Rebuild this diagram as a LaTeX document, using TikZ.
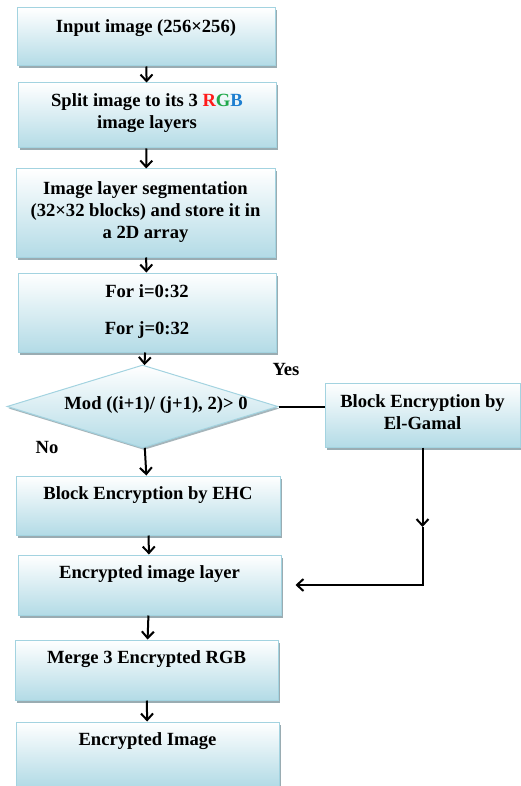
\documentclass[tikz,border=0pt]{standalone}
\usepackage{fontspec}
\setmainfont{Liberation Serif}
\usetikzlibrary{shapes.geometric,arrows.meta,shadows}
\definecolor{boxblue}{HTML}{B3DBE6}
\definecolor{boxedge}{HTML}{A3D3E0}
\definecolor{shadowgray}{HTML}{8FA3AA}
\definecolor{rgbR}{HTML}{FF1A1A}
\definecolor{rgbG}{HTML}{1FA84A}
\definecolor{rgbB}{HTML}{1E7FD0}
\tikzset{
  stepbox/.style={rectangle, draw=boxedge, line width=1pt, top color=white,
    bottom color=boxblue, inner sep=0pt,
    drop shadow={shadow xshift=2pt, shadow yshift=-2.5pt, fill=shadowgray, opacity=0.9}},
  decision/.style={diamond, draw=boxedge, line width=1pt, top color=white,
    bottom color=boxblue, inner sep=0pt, aspect=3.2,
    drop shadow={shadow xshift=1.5pt, shadow yshift=-2pt, fill=shadowgray, opacity=0.8}},
  lbl/.style={font=\fontsize{18.6}{22}\selectfont\bfseries, align=center, inner sep=0pt},
  arr/.style={draw=black, line width=2pt, -{Straight Barb[length=6.5pt,width=12pt,line width=2pt]}},
  plain/.style={draw=black, line width=2pt}
}
\begin{document}
\begin{tikzpicture}[x=1pt,y=-1pt]
\useasboundingbox (0,0) rectangle (521,786);

% process boxes
\node[stepbox, minimum width=258pt, minimum height=58pt] (b1) at (146,37) {};
\node[stepbox, minimum width=258pt, minimum height=65pt] (b2) at (147,115.5) {};
\node[stepbox, minimum width=259pt, minimum height=88pt] (b3) at (145.5,213) {};
\node[stepbox, minimum width=258pt, minimum height=79pt] (b4) at (147,312.5) {};
\node[decision, minimum width=271pt, minimum height=83pt] (d) at (142.5,406.5) {};
\node[stepbox, minimum width=195pt, minimum height=64pt] (g) at (422.5,415) {};
\node[stepbox, minimum width=264pt, minimum height=59pt] (e) at (148,505.5) {};
\node[stepbox, minimum width=263pt, minimum height=60pt] (L) at (149.5,585) {};
\node[stepbox, minimum width=263pt, minimum height=60pt] (m) at (146.5,670) {};
\node[stepbox, minimum width=263pt, minimum height=64pt] (f) at (147.5,754) {};

% box texts
\node[lbl] (t1) at (146,28) {Input image (256×256)};
\node[lbl] (t2) at (147,113.5) {Split image to its 3 \textcolor{rgbR}{R}\textcolor{rgbG}{G}\textcolor{rgbB}{B}\\image layers};
\node[lbl] (t3) at (145.5,212) {Image layer segmentation\\(32×32 blocks) and store it in\\a 2D array};
\node[lbl] (t4) at (147,311.5) {For i=0:32\\[15pt]For j=0:32};
\node[lbl] (td) at (156,405) {Mod ((i+1)/ (j+1), 2)> 0};
\node[lbl] (tg) at (422.5,412.5) {Block Encryption by\\El-Gamal};
\node[lbl] (te) at (148,495) {Block Encryption by EHC};
\node[lbl] (tL) at (149.5,574) {Encrypted image layer};
\node[lbl] (tm) at (146.5,659) {Merge 3 Encrypted RGB};
\node[lbl] (tf) at (147.5,741) {Encrypted Image};

% branch labels
\node[lbl] (yes) at (286,369) {Yes};
\node[lbl] (no) at (47,447) {No};

% main flow
\draw[arr] (b1) -- (b2);
\draw[arr] (b2) -- (b3);
\draw[arr] (b3) -- (b4);
\draw[arr] (b4) -- (d);
\draw[arr] (d) -- (e);
\draw[arr] (e) -- (L);
\draw[arr] (L) -- (m);
\draw[arr] (m) -- (f);

% El-Gamal branch
\draw[plain] (d.east) -- (d.east -| g.west);
\coordinate (gmid) at (g.south |- 0,527);
\draw[arr] (g.south) -- (gmid);
\draw[arr, shorten >=14pt] (gmid) |- (L.east);
\end{tikzpicture}
\end{document}
